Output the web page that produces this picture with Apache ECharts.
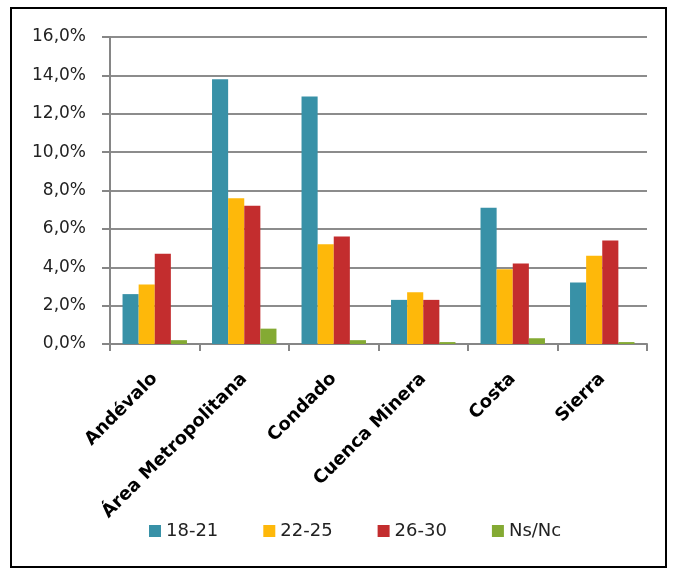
<!DOCTYPE html>
<html>
<head>
<meta charset="utf-8">
<script src="https://cdn.jsdelivr.net/npm/echarts@6/dist/echarts.min.js"></script>
<style>
  html, body { margin: 0; padding: 0; background: #fff; }
  #chart { width: 673px; height: 572px; }
</style>
</head>
<body>
<div id="chart"></div>
<script>
// comarcas de Huelva
const comarcas = ['Andévalo', 'Área Metropolitana', 'Condado', 'Cuenca Minera', 'Costa', 'Sierra'];
const edad18_21 = [2.6, 13.8, 12.9, 2.3, 7.1, 3.2];
const edad22_25 = [3.1, 7.6, 5.2, 2.7, 3.9, 4.6];
const edad26_30 = [4.7, 7.2, 5.6, 2.3, 4.2, 5.4];
const nsnc = [0.2, 0.8, 0.2, 0.1, 0.3, 0.1];
const seriesNames = ['18-21', '22-25', '26-30', 'Ns/Nc'];
const colores = ['#3891A7', '#FEB80A', '#C32D2E', '#84AA33'];

const FONT = 'DejaVu Sans';
const chart = echarts.init(document.getElementById('chart'), null, { renderer: 'canvas' });

const datos = [edad18_21, edad22_25, edad26_30, nsnc];

chart.setOption({
  animation: false,
  backgroundColor: '#fff',
  color: colores,
  graphic: [{
    type: 'rect',
    shape: { x: 11, y: 8, width: 655, height: 559 },
    style: { fill: 'none', stroke: '#000', lineWidth: 2 },
    silent: true
  }],
  grid: { left: 110, right: 26, top: 37, bottom: 228, containLabel: false },
  legend: {
    top: 522,
    left: 149,
    padding: 0,
    itemWidth: 12,
    itemHeight: 12,
    itemGap: 45,
    icon: 'rect',
    textStyle: { fontFamily: FONT, fontSize: 18, color: '#222' },
    data: seriesNames
  },
  xAxis: {
    type: 'category',
    data: comarcas,
    axisLine: { lineStyle: { color: '#868686', width: 2 } },
    axisTick: { show: true, length: 7, lineStyle: { color: '#868686', width: 2 } },
    axisLabel: {
      rotate: 45,
      interval: 0,
      margin: 32,
      fontFamily: FONT,
      fontSize: 18,
      fontWeight: 'bold',
      color: '#000'
    }
  },
  yAxis: {
    type: 'value',
    min: 0,
    max: 16,
    interval: 2,
    axisLine: { show: true, lineStyle: { color: '#868686', width: 2 } },
    axisTick: { show: true, length: 8, lineStyle: { color: '#868686', width: 2 } },
    splitLine: { lineStyle: { color: '#8c8c8c', width: 2 } },
    axisLabel: {
      margin: 24,
      fontFamily: FONT,
      fontSize: 17,
      color: '#222',
      formatter: v => v.toFixed(1).replace('.', ',') + '%'
    }
  },
  series: seriesNames.map((n, i) => ({
    name: n,
    type: 'bar',
    data: datos[i],
    barGap: '0%',
    barCategoryGap: '28%',
    itemStyle: { color: colores[i] }
  }))
});
</script>
</body>
</html>
